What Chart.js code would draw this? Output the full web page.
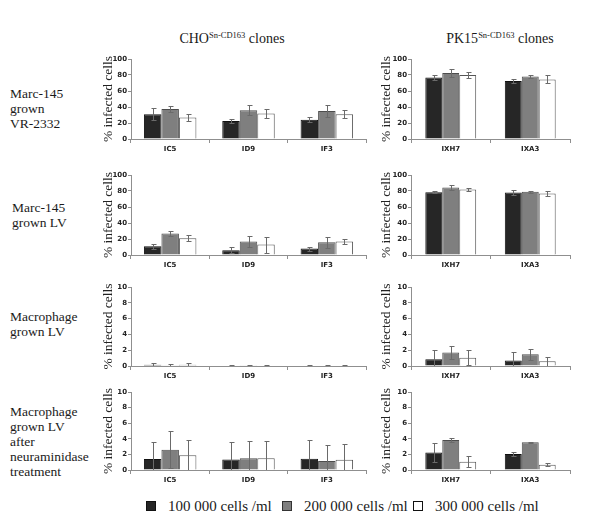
<!DOCTYPE html>
<html>
<head>
<meta charset="utf-8">
<script src="https://cdn.jsdelivr.net/npm/chart.js@4.4.1/dist/chart.umd.min.js"></script>
<style>
  body { margin: 0; background: #fff; }
  #fig { position: relative; width: 600px; height: 530px; overflow: hidden; font-family: "Liberation Serif", serif; color: #1a1a1a; }
  .coltitle { position: absolute; top: 31px; width: 220px; text-align: center; font-size: 14px; }
  .coltitle sup { font-size: 8.5px; vertical-align: 5px; line-height: 0; }
  .rowlabel { position: absolute; font-size: 13.5px; line-height: 15px; white-space: nowrap; }
  .leg { position: absolute; top: 497px; font-size: 15px; line-height: 18px; white-space: nowrap; }
  .sw { position: absolute; width: 8px; height: 8px; border: 1px solid #111; top: 501px; }
</style>
</head>
<body>
<div id="fig"></div>
<script>
// ----- data -----
const choClones = ["IC5", "ID9", "IF3"];
const pkClones = ["IXH7", "IXA3"];
const densities = ["100 000 cells /ml", "200 000 cells /ml", "300 000 cells /ml"];
const rowLabels = [
  ["Marc-145", "grown", "VR-2332"],
  ["Marc-145", "grown LV"],
  ["Macrophage", "grown LV"],
  ["Macrophage", "grown LV", "after", "neuraminidase", "treatment"],
];

// one inner array per density, one value per clone
// Marc-145 grown VR-2332
const choVR    = [[31, 22.5, 24], [37.5, 36, 35], [27, 32, 31]];
const choVRErr = [[7.5, 2, 3], [3.5, 6.5, 7], [4, 6, 5]];
const pkVR     = [[77, 72.5], [82.5, 78], [80, 74.5]];
const pkVRErr  = [[3, 3], [5, 2], [3.5, 5]];
// Marc-145 grown LV
const choLV    = [[11, 6, 8], [27, 17, 16], [21, 13, 17]];
const choLVErr = [[3, 3.5, 2.5], [3.5, 7, 7], [4, 10, 3.5]];
const pkLV     = [[78.5, 78], [84.5, 79], [82, 77]];
const pkLVErr  = [[1.5, 3], [3, 1.5], [1.5, 3]];
// Macrophage grown LV
const choMac    = [[0.15, 0.05, 0.05], [0.1, 0.1, 0.05], [0.15, 0.05, 0.05]];
const choMacErr = [[0.2, 0.05, 0.05], [0.1, 0.05, 0.05], [0.2, 0.05, 0.05]];
const pkMac     = [[0.85, 0.7], [1.7, 1.5], [1.05, 0.6]];
const pkMacErr  = [[1.15, 1.05], [0.85, 0.7], [0.95, 0.55]];
// Macrophage grown LV after neuraminidase
const choNeu    = [[1.4, 1.35, 1.45], [2.6, 1.5, 1.15], [1.9, 1.5, 1.3]];
const choNeuErr = [[2.2, 2.25, 2.45], [2.4, 2.2, 2.05], [2.0, 2.2, 2.0]];
const pkNeu     = [[2.25, 2.05], [3.85, 3.55], [1.05, 0.68]];
const pkNeuErr  = [[1.25, 0.3], [0.25, 0.05], [0.7, 0.17]];

const yMax = [100, 100, 10, 10];
const yStep = [20, 20, 2, 2];

// ----- style -----
const FILLS = ["#262626", "#7f7f7f", "#ffffff"];
const EDGES = ["#111111", "#4d4d4d", "#555555"];
const AXIS = "#8f8f8f";
const ERR = "#6a6a6a";

Chart.defaults.font.family = "'DejaVu Sans', sans-serif";
Chart.defaults.color = "#222";

// layout (pixel positions of the plot boxes)
const ROWS = [ { top: 59, bottom: 139 }, { top: 175, bottom: 255 }, { top: 287, bottom: 366 }, { top: 392, bottom: 470 } ];
const COLS = [ { x: 100, w: 270, yW: 31, padR: 4 }, { x: 378, w: 197, yW: 33, padR: 5 } ];
const PAD_TOP = 6, X_H = 16;

const fig = document.getElementById("fig");

// error bars drawn from dataset.errors through the y scale
const errorBars = {
  id: "errorBars",
  afterDatasetsDraw(chart) {
    const { ctx, chartArea, scales: { y } } = chart;
    ctx.save();
    ctx.beginPath();
    ctx.rect(chartArea.left, chartArea.top - 3, chartArea.width, chartArea.height + 3);
    ctx.clip();
    ctx.strokeStyle = ERR;
    ctx.lineWidth = 1;
    chart.data.datasets.forEach((ds, i) => {
      chart.getDatasetMeta(i).data.forEach((bar, j) => {
        const v = ds.data[j], e = ds.errors[j];
        const x = Math.round(bar.x) + 0.5;
        const hi = Math.round(y.getPixelForValue(v + e)) + 0.5;
        const lo = Math.round(y.getPixelForValue(v - e)) + 0.5;
        ctx.beginPath();
        ctx.moveTo(x, lo); ctx.lineTo(x, hi);
        ctx.moveTo(x - 2, hi); ctx.lineTo(x + 3, hi);
        ctx.moveTo(x - 2, lo); ctx.lineTo(x + 3, lo);
        ctx.stroke();
      });
    });
    ctx.restore();
  },
};

function addPanel(row, col, clones, values, errors) {
  const r = ROWS[row], c = COLS[col];
  const h = PAD_TOP + (r.bottom - r.top) + X_H;
  const canvas = document.createElement("canvas");
  canvas.width = c.w; canvas.height = h;
  canvas.style.cssText = `position:absolute;left:${c.x}px;top:${r.top - PAD_TOP}px;width:${c.w}px;height:${h}px`;
  fig.appendChild(canvas);

  new Chart(canvas, {
    type: "bar",
    data: {
      labels: clones,
      datasets: densities.map((d, i) => ({
        label: d,
        data: values[i],
        errors: errors[i],
        backgroundColor: FILLS[i],
        borderColor: EDGES[i],
        borderWidth: 1,
        categoryPercentage: col === 0 ? 0.67 : 0.64,
        barPercentage: 1.0,
      })),
    },
    options: {
      responsive: false,
      animation: false,
      events: [],
      layout: { padding: { top: PAD_TOP, right: c.padR, left: 0, bottom: 0 } },
      plugins: { legend: { display: false }, tooltip: { enabled: false } },
      scales: {
        x: {
          afterFit: (s) => { s.height = X_H; },
          grid: { drawOnChartArea: false, tickLength: 4, color: AXIS },
          border: { color: AXIS },
          ticks: { font: { size: 7, weight: "bold" }, padding: 2, maxRotation: 0, autoSkip: false },
        },
        y: {
          min: 0, max: yMax[row],
          afterFit: (s) => { s.width = c.yW; },
          grid: { drawOnChartArea: false, tickLength: 3, color: AXIS },
          border: { color: AXIS },
          ticks: { stepSize: yStep[row], font: { size: 7, weight: "bold" }, padding: 1 },
          title: {
            display: true, text: "% infected cells", color: "#222",
            font: { family: "'Liberation Serif', serif", size: 13.5 },
            padding: { top: 0, bottom: 0 },
          },
        },
      },
    },
    plugins: [errorBars],
  });
}

addPanel(0, 0, choClones, choVR, choVRErr);
addPanel(0, 1, pkClones, pkVR, pkVRErr);
addPanel(1, 0, choClones, choLV, choLVErr);
addPanel(1, 1, pkClones, pkLV, pkLVErr);
addPanel(2, 0, choClones, choMac, choMacErr);
addPanel(2, 1, pkClones, pkMac, pkMacErr);
addPanel(3, 0, choClones, choNeu, choNeuErr);
addPanel(3, 1, pkClones, pkNeu, pkNeuErr);

// ----- column titles -----
function addText(cls, html, left, top) {
  const d = document.createElement("div");
  d.className = cls;
  d.innerHTML = html;
  d.style.left = left + "px";
  if (top !== undefined) d.style.top = top + "px";
  fig.appendChild(d);
  return d;
}
addText("coltitle", "CHO<sup>Sn-CD163</sup> clones", 122);
addText("coltitle", "PK15<sup>Sn-CD163</sup> clones", 390);

// ----- row labels -----
const ROW_LABEL_POS = [ { x: 10, y: 86 }, { x: 12, y: 200 }, { x: 10, y: 309 }, { x: 10, y: 404 } ];
rowLabels.forEach((lines, i) => {
  addText("rowlabel", lines.join("<br>"), ROW_LABEL_POS[i].x, ROW_LABEL_POS[i].y);
});

// ----- legend -----
const LEG_X = [146, 282, 413];
densities.forEach((d, i) => {
  const sw = document.createElement("div");
  sw.className = "sw";
  sw.style.left = LEG_X[i] + "px";
  sw.style.background = FILLS[i];
  sw.style.borderColor = i === 1 ? "#333" : "#111";
  fig.appendChild(sw);
  addText("leg", d, LEG_X[i] + 22);
});
</script>
</body>
</html>
